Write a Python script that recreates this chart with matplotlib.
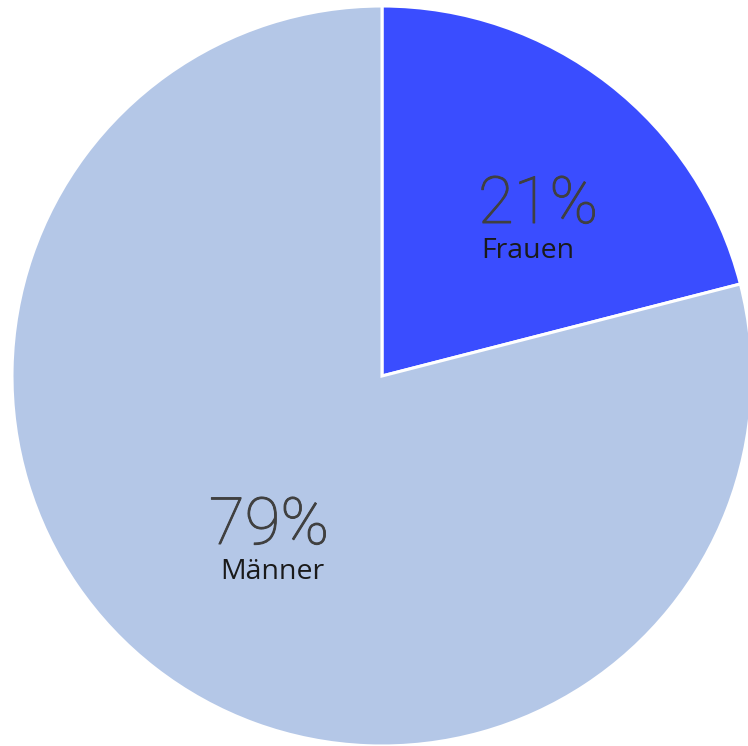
import matplotlib
matplotlib.use("Agg")
import matplotlib.pyplot as plt
import matplotlib.patheffects as pe

categories = ["Frauen", "Männer"]
values = [21, 79]
colors = ["#3a4dff", "#b4c7e7"]

W, H = 748, 746
fig = plt.figure(figsize=(W/100, H/100), dpi=100)
ax = fig.add_axes([0, 0, 1, 1])

cx, cy, r = 382, H - 376, 370
ax.pie(values, colors=colors, startangle=90, counterclock=False,
       center=(cx, cy), radius=r, frame=True,
       wedgeprops=dict(edgecolor="white", linewidth=2.2))
ax.set_xlim(0, W)
ax.set_ylim(0, H)
ax.set_aspect("equal")
ax.axis("off")

pct_pos = [(538, 205), (269, 526)]
lab_pos = [(528, 251), (272, 572)]
for cat, v, (px, py), (lx, ly) in zip(categories, values, pct_pos, lab_pos):
    ax.text(px, H - py, f"{v}%", ha="center", va="center", fontsize=47,
            family=["Roboto", "DejaVu Sans"], fontweight="light", color="#404040",
            path_effects=[pe.withStroke(linewidth=0.7, foreground="#404040")])
    ax.text(lx, H - ly, cat, ha="center", va="center", fontsize=20.5,
            family=["Open Sans", "DejaVu Sans"], color="#1a1a1a")

fig.savefig("out.png", dpi=100)
